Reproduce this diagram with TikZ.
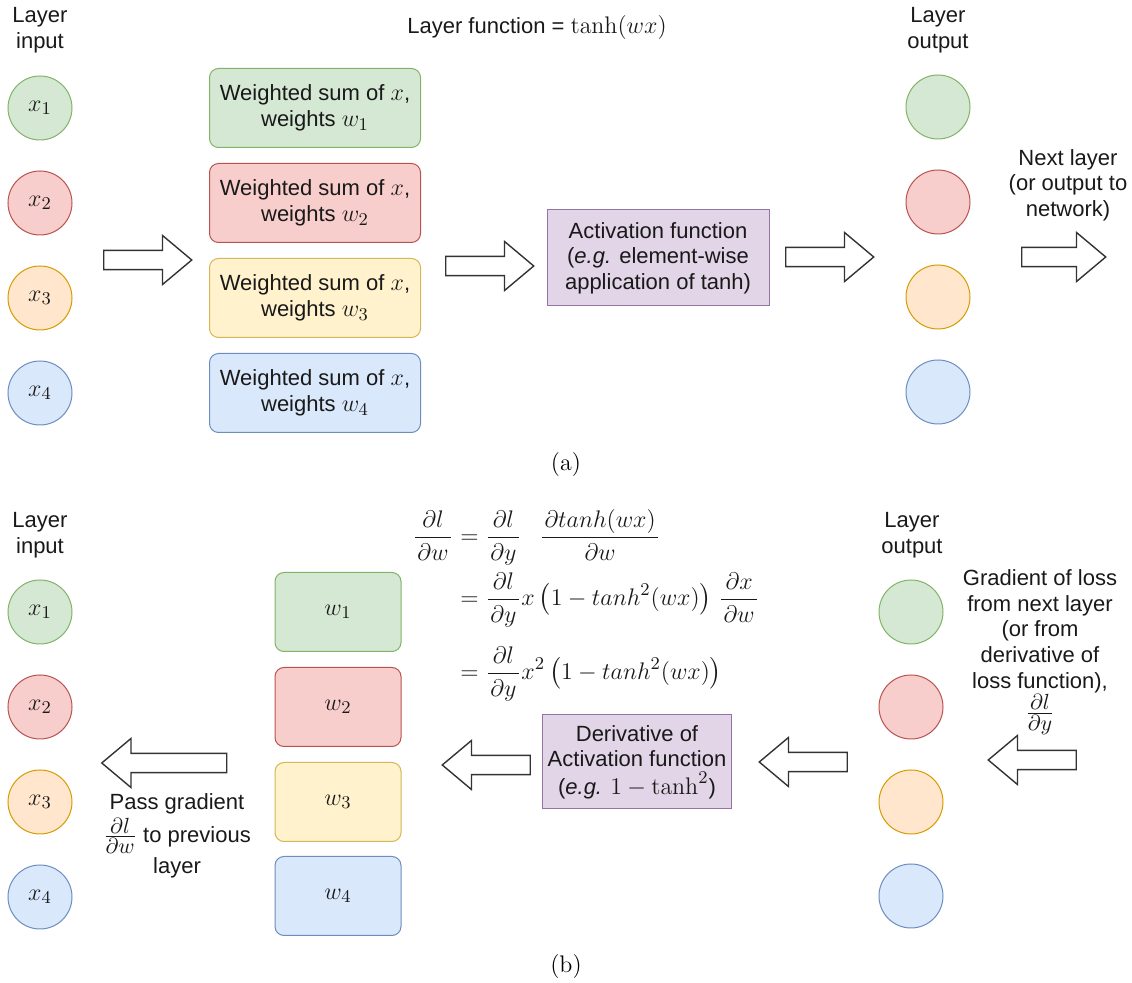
\documentclass[tikz,border=0pt]{standalone}
\usepackage{amsmath}
\usepackage{amssymb}
\usepackage[no-math]{fontspec}
\setsansfont{Liberation Sans}
\usepackage{xcolor}
\usetikzlibrary{shapes.arrows}

% math is set a little larger than the text round it
\DeclareMathSizes{11}{13.2}{9.5}{7.5}
\DeclareMathSizes{12}{13.2}{10.5}{8}
% small fraction inside a text label
\newcommand{\gradfrac}[2]{{\fontsize{12}{12.8}\selectfont$\frac{#1}{#2}$}}
% fraction with a little room at the ends of its bar
\newcommand{\pd}[2]{\frac{\mkern2mu#1\mkern2mu}{\mkern2mu#2\mkern2mu}}

% draw.io palette
\definecolor{grfill}{HTML}{D5E8D4}\definecolor{grline}{HTML}{82B366}
\definecolor{rdfill}{HTML}{F8CECC}\definecolor{rdline}{HTML}{B85450}
\definecolor{orfill}{HTML}{FFE6CC}\definecolor{orline}{HTML}{D79B00}
\definecolor{ylfill}{HTML}{FFF2CC}\definecolor{ylline}{HTML}{D6B656}
\definecolor{blfill}{HTML}{DAE8FC}\definecolor{blline}{HTML}{6C8EBF}
\definecolor{pufill}{HTML}{E1D5E7}\definecolor{puline}{HTML}{9673A6}

\tikzset{
  txt/.style={font=\sffamily\fontsize{11}{12.8}\selectfont, text=black!90, align=center, inner sep=0pt},
  neuron/.style={txt, circle, minimum size=32pt, line width=0.5pt},
  wbox/.style={txt, rectangle, rounded corners=4.5pt, minimum height=39.5pt, line width=0.5pt},
  fbox/.style={txt, rectangle, fill=pufill, draw=puline, line width=0.5pt},
  greenc/.style={fill=grfill, draw=grline},
  redc/.style={fill=rdfill, draw=rdline},
  orangec/.style={fill=orfill, draw=orline},
  yellowc/.style={fill=ylfill, draw=ylline},
  bluec/.style={fill=blfill, draw=blline},
  bigarrow/.style={single arrow, draw=black!80, fill=white, line width=0.7pt,
    inner xsep=0pt, inner ysep=4.25pt, minimum width=24.5pt, minimum height=44pt,
    single arrow tip angle=80},
  caplbl/.style={font=\rmfamily\fontsize{12}{14}\selectfont}
}

\begin{document}
\begin{tikzpicture}[x=0.5pt, y=-0.5pt]
		\useasboundingbox (0,0) rectangle (1132,983);

		% ---------- (a) forward pass ----------
		\node[txt] (inlbl) at (40,30) {Layer\\input};
		\node[neuron, greenc] (in1) at (40,108) {$x_1$};
		\node[neuron, redc] (in2) at (40,203) {$x_2$};
		\node[neuron, orangec] (in3) at (40,298) {$x_3$};
		\node[neuron, bluec] (in4) at (40,393) {$x_4$};

		\node[bigarrow] (arA1) at (142,260) {};

		% weighted sums
		\node[wbox, greenc, minimum width=105.5pt] (ws1) at (315,108) {Weighted sum of $x$,\\weights $w_1$};
		\node[wbox, redc, minimum width=105.5pt] (ws2) at (315,203) {Weighted sum of $x$,\\weights $w_2$};
		\node[wbox, yellowc, minimum width=105.5pt] (ws3) at (315,298) {Weighted sum of $x$,\\weights $w_3$};
		\node[wbox, bluec, minimum width=105.5pt] (ws4) at (315,393) {Weighted sum of $x$,\\weights $w_4$};

		\node[txt] (lfun) at (537,28) {Layer function = $\tanh(wx)$};

		\node[bigarrow] (arA2) at (484,266) {};
		\node[fbox, minimum width=111pt, minimum height=48pt] (act) at (658,258)
			{Activation function\\(\textit{e.g.} element-wise\\application of tanh)};
		\node[bigarrow] (arA3) at (824,257) {};

		% outputs
		\node[txt] (outlbl) at (938,30) {Layer\\output};
		\node[neuron, greenc] (out1) at (938,107) {};
		\node[neuron, redc] (out2) at (938,202) {};
		\node[neuron, orangec] (out3) at (938,297) {};
		\node[neuron, bluec] (out4) at (938,392) {};

		\node[txt] (nextlbl) at (1068,185) {Next layer\\(or output to\\network)};
		\node[bigarrow, minimum height=42pt] (arA4) at (1058,257) {};

		\node[caplbl] (capA) at (566,465) {(a)};

		% ---------- (b) backward pass ----------
		\node[txt] (inlblB) at (40,535) {Layer\\input};
		\node[neuron, greenc] (inB1) at (40,612) {$x_1$};
		\node[neuron, redc] (inB2) at (40,707) {$x_2$};
		\node[neuron, orangec] (inB3) at (40,802) {$x_3$};
		\node[neuron, bluec] (inB4) at (40,897) {$x_4$};

		\node[bigarrow, minimum height=62.5pt, shape border rotate=180] (arB4) at (170,763) {};
		\node[txt, fill=white] (passlbl) at (177,836)
			{Pass gradient\\[1pt]\gradfrac{\partial l}{\partial w} to previous\\[1pt]layer};

		% weights
		\node[wbox, greenc, minimum width=63pt] (wB1) at (338,612) {$w_1$};
		\node[wbox, redc, minimum width=63pt] (wB2) at (338,707) {$w_2$};
		\node[wbox, yellowc, minimum width=63pt] (wB3) at (338,802) {$w_3$};
		\node[wbox, bluec, minimum width=63pt] (wB4) at (338,896) {$w_4$};

		% chain rule
		\node[txt, anchor=north west] (eqn) at (412,509) {$\begin{aligned}
			\pd{\partial l}{\partial w} &= \pd{\partial l}{\partial y}\hspace{9pt}\pd{\partial tanh(wx)}{\partial w}\\[0pt]
			&= \pd{\partial l}{\partial y}x\,\bigl(1-tanh^2(wx)\bigr)\;\pd{\partial x}{\partial w}\\[6pt]
			&= \pd{\partial l}{\partial y}x^2\,\bigl(1-tanh^2(wx)\bigr)
		\end{aligned}$};

		\node[bigarrow, shape border rotate=180] (arB1) at (492,765) {};
		\node[fbox, minimum width=94.5pt, minimum height=47pt] (deriv) at (637,762)
			{Derivative of\\Activation function\\[1pt](\textit{e.g.} $1-\tanh^2$)};
		\node[bigarrow, shape border rotate=180] (arB2) at (809,762) {};

		% outputs
		\node[txt] (outlblB) at (912,535) {Layer\\output};
		\node[neuron, greenc] (outB1) at (911,612) {};
		\node[neuron, redc] (outB2) at (911,707) {};
		\node[neuron, orangec] (outB3) at (911,802) {};
		\node[neuron, bluec] (outB4) at (911,896) {};

		\node[txt] (gradlbl) at (1040,652) {Gradient of loss\\from next layer\\(or from\\derivative of\\loss function),\\\gradfrac{\partial l}{\partial y}};
		\node[bigarrow, shape border rotate=180] (arB3) at (1038,760) {};

		\node[caplbl] (capB) at (566,967) {(b)};
	\end{tikzpicture}
\end{document}
